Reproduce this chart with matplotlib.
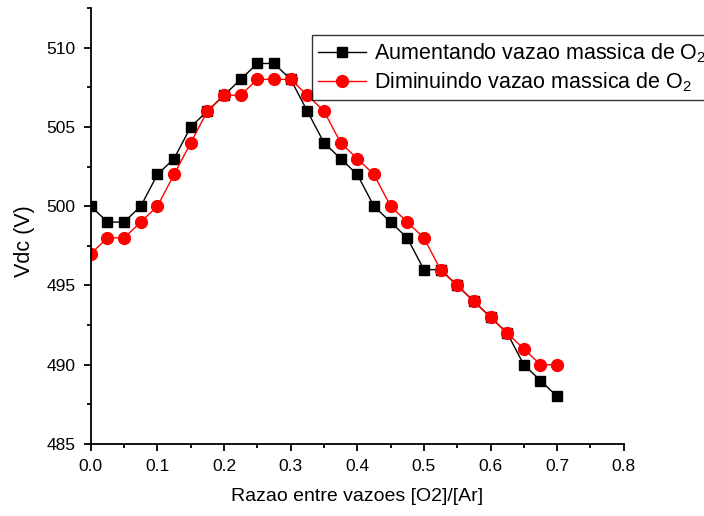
import matplotlib
matplotlib.use("Agg")
import matplotlib.pyplot as plt
from matplotlib.ticker import MultipleLocator, FormatStrFormatter

plt.rcParams['font.family'] = ['Liberation Sans', 'DejaVu Sans']
plt.rcParams['mathtext.fontset'] = 'custom'
plt.rcParams['mathtext.rm'] = 'Liberation Sans'

razao = [0.0, 0.025, 0.05, 0.075, 0.1, 0.125, 0.15, 0.175, 0.2, 0.225,
         0.25, 0.275, 0.3, 0.325, 0.35, 0.375, 0.4, 0.425, 0.45, 0.475,
         0.5, 0.525, 0.55, 0.575, 0.6, 0.625, 0.65, 0.675, 0.7]
vdc_aumentando = [500, 499, 499, 500, 502, 503, 505, 506, 507, 508,
                  509, 509, 508, 506, 504, 503, 502, 500, 499, 498,
                  496, 496, 495, 494, 493, 492, 490, 489, 488]
vdc_diminuindo = [497, 498, 498, 499, 500, 502, 504, 506, 507, 507,
                  508, 508, 508, 507, 506, 504, 503, 502, 500, 499,
                  498, 496, 495, 494, 493, 492, 491, 490, 490]

fig = plt.figure(figsize=(7.04, 5.16), dpi=100)
ax = fig.add_axes([0.129, 0.1395, 0.757, 0.845])

ax.plot(razao, vdc_aumentando, color='black', marker='s', markersize=7,
        linewidth=1, label=r'Aumentando vazao massica de O$_2$')
ax.plot(razao, vdc_diminuindo, color='red', marker='o', markersize=8.5,
        linewidth=1, label=r'Diminuindo vazao massica de O$_2$')

ax.set_xlim(0, 0.8)
ax.set_ylim(485, 512.5)
ax.xaxis.set_major_locator(MultipleLocator(0.1))
ax.xaxis.set_minor_locator(MultipleLocator(0.05))
ax.yaxis.set_major_locator(MultipleLocator(5))
ax.yaxis.set_minor_locator(MultipleLocator(2.5))
ax.xaxis.set_major_formatter(FormatStrFormatter('%.1f'))
ax.spines['top'].set_visible(False)
ax.spines['right'].set_visible(False)
ax.spines['left'].set_linewidth(1.3)
ax.spines['bottom'].set_linewidth(1.3)
ax.tick_params(which='major', direction='out', length=5, width=1.3,
               labelsize=12.5, pad=6)
ax.tick_params(which='minor', direction='out', length=3, width=1.3)

ax.set_xlabel('Razao entre vazoes [O2]/[Ar]', fontsize=14)
ax.set_ylabel('Vdc (V)', fontsize=15.5)
ax.xaxis.set_label_coords(0.5, -0.1)
ax.yaxis.set_label_coords(-0.105, 0.466)

leg = ax.legend(loc='upper left', bbox_to_anchor=(312 / 704, 1 - 35 / 516),
                bbox_transform=fig.transFigure, fontsize=15.5, frameon=True,
                fancybox=False, handlelength=2.2, borderaxespad=0,
                borderpad=0.3, labelspacing=0.25, handletextpad=0.4)
leg.get_frame().set_edgecolor('black')
leg.get_frame().set_linewidth(1)

fig.savefig('out.png', dpi=100)
